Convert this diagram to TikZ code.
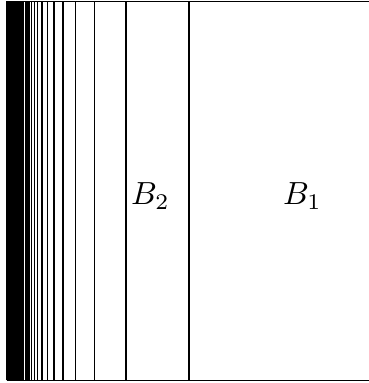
\documentclass[tikz,border=0pt]{standalone}
\begin{document}
\begin{tikzpicture}[x=0.3125pt,y=0.3125pt,line width=0.4pt,
  rule/.style={draw=black},
  lbl/.style={anchor=base,inner sep=0pt}]
\useasboundingbox (0,0) rectangle (369,383);
\draw[rule] (7,381.5) -- (369,381.5);
\draw[rule] (7,2.5) -- (369,2.5);
\foreach \n in {2,...,54} {
  \draw[rule] ({378/\n},2.5) -- ({378/\n},381.5);
}
\node[lbl] (b2) at (150.5,178) {$B_2$};
\node[lbl] (b1) at (302.5,178) {$B_1$};
\end{tikzpicture}
\end{document}
